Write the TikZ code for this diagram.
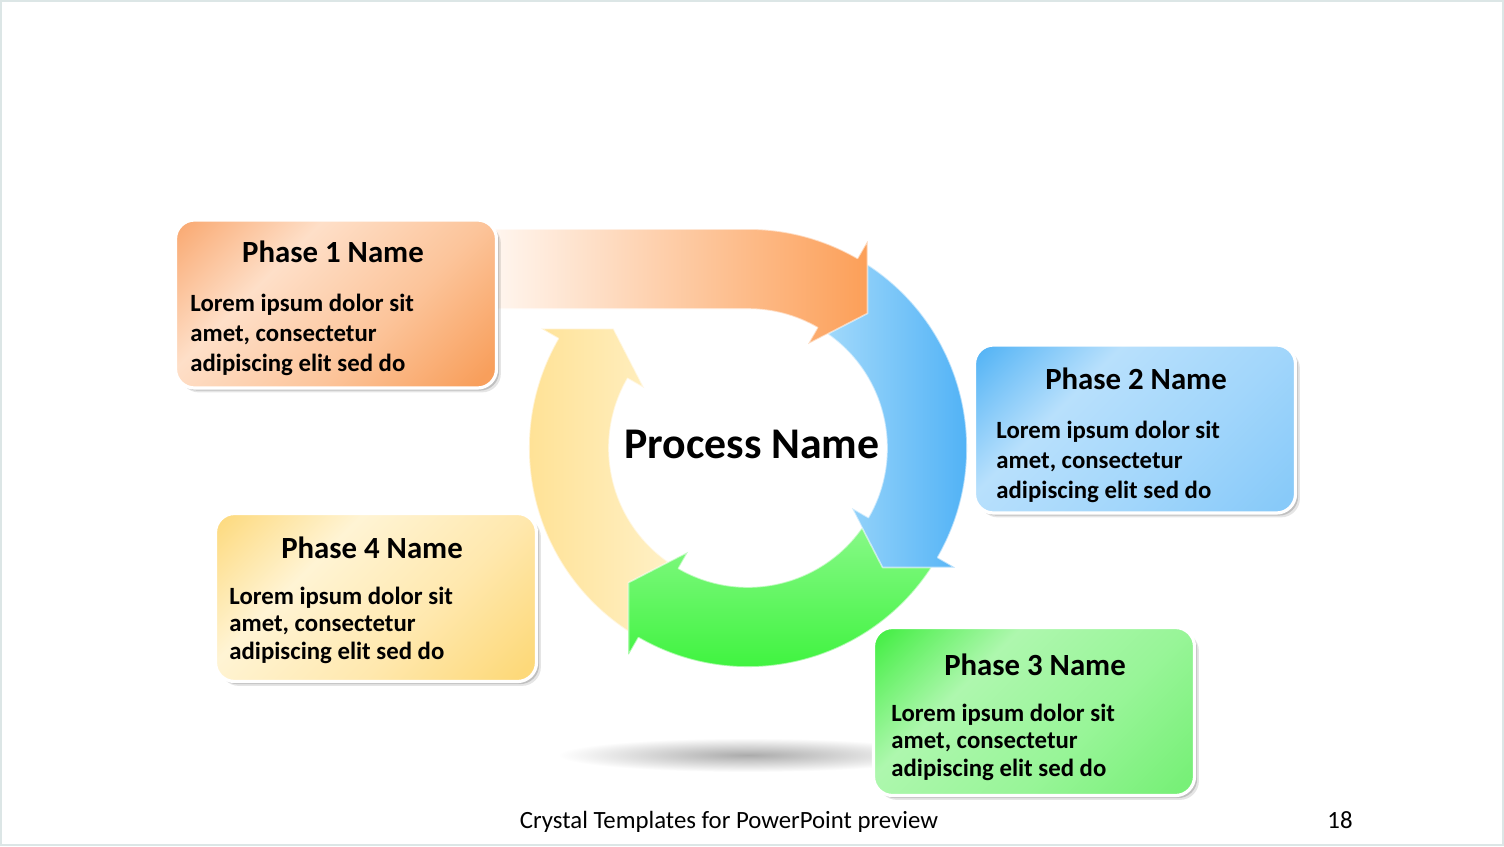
\documentclass[tikz,border=0pt]{standalone}
\usepackage{fontspec}
\setmainfont{Carlito}
\usetikzlibrary{shadows}

\definecolor{frameC}{HTML}{DCE6E6}
% box 1 (orange)
\definecolor{oA}{HTML}{F9A870}
\definecolor{oL}{HTML}{FEDFC8}
\definecolor{oM}{HTML}{FCC49A}
\definecolor{oD}{HTML}{F89F5C}
% box 2 (blue)
\definecolor{bA}{HTML}{50B2F5}
\definecolor{bL}{HTML}{B8E0FC}
\definecolor{bM}{HTML}{A2D6FB}
\definecolor{bD}{HTML}{88CAF9}
% box 3 (green)
\definecolor{gA}{HTML}{40EE40}
\definecolor{gL}{HTML}{AEF7AE}
\definecolor{gM}{HTML}{98F598}
\definecolor{gD}{HTML}{78F078}
% box 4 (yellow)
\definecolor{yA}{HTML}{FDD97C}
\definecolor{yL}{HTML}{FFF4D4}
\definecolor{yM}{HTML}{FFE8AE}
\definecolor{yD}{HTML}{FDD97A}
% ring colours
\definecolor{ringYa}{HTML}{FFDF8C}
\definecolor{ringYb}{HTML}{FFF1C8}
\definecolor{ringGa}{HTML}{8CF98C}
\definecolor{ringGb}{HTML}{30F230}
\definecolor{ringBa}{HTML}{A6DBFB}
\definecolor{ringBb}{HTML}{40AAF5}
\definecolor{ringOa}{HTML}{FFF6EF}
\definecolor{ringOm}{HTML}{FDCBA4}
\definecolor{ringOb}{HTML}{FC9F58}

\pgfdeclareverticalshading{shadeOne}{100bp}{color(0bp)=(oD); color(18bp)=(oD); color(40bp)=(oM); color(64bp)=(oL); color(85bp)=(oA); color(100bp)=(oA)}
\pgfdeclareverticalshading{shadeTwo}{100bp}{color(0bp)=(bD); color(18bp)=(bD); color(40bp)=(bM); color(64bp)=(bL); color(85bp)=(bA); color(100bp)=(bA)}
\pgfdeclareverticalshading{shadeThree}{100bp}{color(0bp)=(gD); color(18bp)=(gD); color(40bp)=(gM); color(64bp)=(gL); color(85bp)=(gA); color(100bp)=(gA)}
\pgfdeclareverticalshading{shadeFour}{100bp}{color(0bp)=(yD); color(18bp)=(yD); color(40bp)=(yM); color(64bp)=(yL); color(85bp)=(yA); color(100bp)=(yA)}

% #1 start angle, #2 head base angle (user angles, y axis flipped), #3 style
\newcommand\ringarrow[3]{%
  \path[#3] ([shift={(748,448)}]#1:219) arc[start angle=#1, end angle=#2, radius=219]
    -- ([shift={(748,448)}]#2:239)
    -- ([shift={(748,448)}]{#2+11.6}:180)
    -- ([shift={(748,448)}]#2:120)
    -- ([shift={(748,448)}]#2:139) arc[start angle=#2, end angle=#1, radius=139]
    -- cycle;}

\tikzset{
  phasebox/.style={shade, shading=#1, shading angle=45, rounded corners=9.5pt,
    draw=white, line width=1.6pt, minimum width=160.5pt, minimum height=84pt,
    inner sep=0pt,
    drop shadow={shadow xshift=2.2pt, shadow yshift=-2.2pt, opacity=0.10, fill=black},
    drop shadow={shadow xshift=1.3pt, shadow yshift=-1.3pt, opacity=0.16, fill=black}},
  titletext/.style={font=\fontsize{15.4}{18}\selectfont\bfseries, inner sep=0pt},
  bodytext/.style={font=\fontsize{12.4}{#1}\selectfont\bfseries, align=left, inner sep=0pt, anchor=west},
  foottext/.style={font=\fontsize{12.4}{14}\selectfont, inner sep=0pt, anchor=base},
  rim/.style={draw=white, draw opacity=0.55, line width=0.8pt, line join=round},
}

\begin{document}
\begin{tikzpicture}[x=0.5pt,y=-0.5pt]
\useasboundingbox (0,0) rectangle (1504,846);
\fill[white] (0,0) rectangle (1504,846);
\draw[frameC, line width=0.6pt] (1,1) rectangle (1503,845);

% shadow under the ring
\shade[inner color=black!33, outer color=white] (748,755) ellipse [x radius=190, y radius=17];

% ring arrows: yellow, green, blue, then orange
\ringarrow{120}{210}{left color=ringYa, right color=ringYb, rim}
\ringarrow{30}{120}{top color=ringGa, bottom color=ringGb, rim}
\ringarrow{-60}{30}{left color=ringBa, right color=ringBb, rim}
\path[left color=ringOa, middle color=ringOm, right color=ringOb, rim]
  (494,229) -- (748,229) arc[start angle=-90, end angle=-60, radius=219]
  -- ([shift={(748,448)}]-60:239)
  -- ([shift={(748,448)}]-48.4:180)
  -- ([shift={(748,448)}]-60:120)
  -- ([shift={(748,448)}]-60:139) arc[start angle=-60, end angle=-90, radius=139]
  -- (494,309) -- cycle;

% phase boxes
\node[phasebox=shadeOne]   (p1) at (336,304)   {};
\node[phasebox=shadeTwo]   (p2) at (1135,429)  {};
\node[phasebox=shadeThree] (p3) at (1034,711.5){};
\node[phasebox=shadeFour]  (p4) at (376,597.5) {};

% centre label
\node[font=\fontsize{21.9}{26}\selectfont\bfseries, inner sep=0pt] (proc) at (752,444) {Process Name};

% titles
\node[titletext] (t1) at (333,252)  {Phase 1 Name};
\node[titletext] (t2) at (1136,379) {Phase 2 Name};
\node[titletext] (t3) at (1035,665) {Phase 3 Name};
\node[titletext] (t4) at (372,548)  {Phase 4 Name};

% bodies
\node[bodytext=15]    (b1) at (190,335) {Lorem ipsum dolor sit\\amet, consectetur\\adipiscing elit sed do};
\node[bodytext=15]    (b2) at (996,462) {Lorem ipsum dolor sit\\amet, consectetur\\adipiscing elit sed do};
\node[bodytext=13.75] (b3) at (891,742) {Lorem ipsum dolor sit\\amet, consectetur\\adipiscing elit sed do};
\node[bodytext=13.75] (b4) at (229,625) {Lorem ipsum dolor sit\\amet, consectetur\\adipiscing elit sed do};

% footer
\node[foottext] (ft) at (729,828) {Crystal Templates for PowerPoint preview};
\node[foottext] (pg) at (1340,828) {18};
\end{tikzpicture}
\end{document}
